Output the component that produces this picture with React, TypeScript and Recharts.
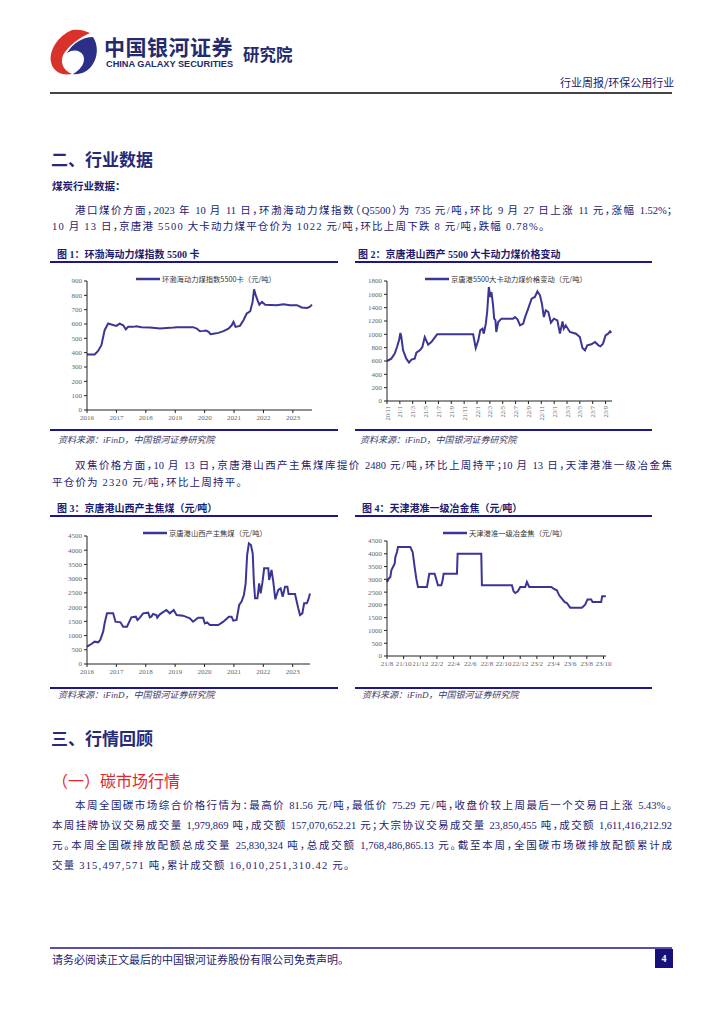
import React from "react";
import { LineChart, Line, XAxis, YAxis, Legend } from "recharts";

const NAVY = "#1d1a6e";
const LINE = "#3b3595";
const RULE = "#1e168c";
const SERIF = '"Liberation Serif", "Noto Sans CJK SC", serif';
const HEI = '"Noto Sans CJK SC", sans-serif';

// 图1：环渤海动力煤指数 5500 卡（年份小数, 元/吨）
const bsYears = [
  2016.0, 2016.26, 2016.37, 2016.49, 2016.6, 2016.72, 2016.83, 2017.0, 2017.11, 2017.23,
  2017.32, 2017.4, 2017.57, 2017.68, 2017.85, 2018.14, 2018.48, 2018.82, 2019.05, 2019.61,
  2019.73, 2019.84, 2019.95, 2020.05, 2020.13, 2020.2, 2020.35, 2020.47, 2020.64, 2020.81,
  2020.92, 2020.98, 2021.05, 2021.2, 2021.32, 2021.43, 2021.55, 2021.63, 2021.68, 2021.73,
  2021.8, 2021.86, 2021.95, 2022.06, 2022.45, 2022.68, 2022.9, 2023.14, 2023.3, 2023.48,
  2023.57, 2023.65,
];
const bsValues = [
  387, 387, 410, 452, 557, 603, 596, 587, 603, 591,
  563, 580, 580, 585, 578, 575, 568, 573, 578, 578,
  568, 550, 552, 555, 545, 529, 534, 538, 550, 568,
  591, 615, 580, 587, 626, 673, 689, 754, 842, 805,
  765, 735, 754, 735, 731, 738, 731, 731, 715, 712,
  719, 735,
];
const yearTicks1 = [2016, 2017, 2018, 2019, 2020, 2021, 2022, 2023];
const bsYTicks = [0, 100, 200, 300, 400, 500, 600, 700, 800, 900];

// 图2：京唐港山西产 5500 大卡动力煤（自 20/11 起的月序号）
const jtMonths = [
  0, 0.67, 1.2, 1.56, 1.87, 2.08, 2.23, 2.5, 3.0, 3.43,
  3.8, 4.3, 4.57, 5.1, 5.5, 5.87, 6.1, 6.4, 6.9, 7.8,
  13.4, 13.8, 14.2, 14.5, 14.85, 15.06, 15.37, 15.58, 15.84, 16.04,
  16.25, 16.5, 16.67, 16.87, 17.0, 17.3, 17.8, 19.6, 19.9, 20.3,
  20.7, 21.2, 21.4, 21.96, 22.5, 23.0, 23.4, 23.8, 24.1, 24.4,
  24.7, 25.1, 25.5, 25.96, 26.5, 26.9, 27.3, 27.5, 27.8, 28.45,
  29.4, 30.0, 30.4, 30.8, 31.15, 31.8, 32.35, 32.9, 33.2, 33.6,
  34.0, 34.4, 34.7, 34.9,
];
const jtValues = [
  600, 635, 710, 810, 910, 1020, 960, 760, 635, 575,
  620, 635, 725, 760, 810, 960, 910, 845, 885, 1000,
  1000, 795, 910, 1060, 1085, 1010, 1160, 1335, 1710, 1560,
  1635, 1435, 1235, 1210, 1035, 1185, 1235, 1235, 1260, 1225,
  1135, 1160, 1235, 1385, 1535, 1560, 1645, 1585, 1460, 1260,
  1360, 1335, 1175, 1235, 1210, 1010, 1195, 1085, 1135, 1035,
  1010, 960, 795, 760, 835, 850, 885, 835, 820, 860,
  985, 1010, 1045, 1022,
];
const jtTicks = [0, 2, 4, 6, 8, 10, 12, 14, 16, 18, 20, 22, 24, 26, 28, 30, 32, 34];
const jtLabels = [
  "20/11", "21/1", "21/3", "21/5", "21/7", "21/9", "21/11", "22/1", "22/3",
  "22/5", "22/7", "22/9", "22/11", "23/1", "23/3", "23/5", "23/7", "23/9",
];
const jtYTicks = [0, 200, 400, 600, 800, 1000, 1200, 1400, 1600, 1800];

// 图3：京唐港山西产主焦煤（元/吨）
const zjYears = [
  2016.0, 2016.15, 2016.26, 2016.38, 2016.45, 2016.55, 2016.6, 2016.68, 2016.89, 2016.97,
  2017.14, 2017.23, 2017.36, 2017.51, 2017.66, 2017.72, 2017.8, 2017.91, 2018.08, 2018.14,
  2018.19, 2018.25, 2018.36, 2018.39, 2018.48, 2018.7, 2018.82, 2018.95, 2019.05, 2019.27,
  2019.5, 2019.61, 2019.78, 2019.95, 2020.01, 2020.09, 2020.18, 2020.47, 2020.64, 2020.83,
  2020.92, 2020.98, 2021.09, 2021.18, 2021.26, 2021.34, 2021.4, 2021.45, 2021.51, 2021.58,
  2021.64, 2021.68, 2021.72, 2021.8, 2021.86, 2021.91, 2021.97, 2022.03, 2022.17, 2022.2,
  2022.28, 2022.34, 2022.41, 2022.51, 2022.59, 2022.66, 2022.74, 2022.82, 2022.86, 2023.08,
  2023.19, 2023.25, 2023.33, 2023.39, 2023.48, 2023.53, 2023.59,
];
const zjValues = [
  610, 703, 785, 762, 844, 1137, 1430, 1781, 1781, 1488,
  1465, 1313, 1313, 1641, 1664, 1547, 1629, 1781, 1805, 1641,
  1664, 1758, 1723, 1629, 1746, 1899, 1781, 1899, 1723, 1699,
  1606, 1488, 1629, 1629, 1430, 1465, 1371, 1371, 1488, 1664,
  1664, 1524, 1547, 2074, 2192, 2426, 2836, 3832, 4243, 4184,
  3891, 2895, 2309, 2309, 2836, 2485, 2860, 3364, 3364, 2953,
  3305, 2895, 2274, 2602, 2660, 2367, 2719, 2719, 2461, 2461,
  1957, 1723, 1781, 2133, 2133, 2250, 2480,
];
const cokeYTicks = [0, 500, 1000, 1500, 2000, 2500, 3000, 3500, 4000, 4500];

// 图4：天津港准一级冶金焦（自 21/8 起的月序号）
const tjMonths = [
  0, 0.2, 0.4, 0.52, 0.72, 0.92, 1.0, 1.2, 1.32, 2.8,
  3.08, 3.32, 3.52, 3.72, 4.8, 5.08, 5.72, 6.12, 6.52, 6.68,
  6.8, 8.4, 8.48, 11.32, 11.4, 15.0, 15.2, 15.4, 15.72, 16.0,
  16.6, 16.8, 17.08, 19.72, 20.0, 20.4, 20.68, 21.0, 21.32, 21.6,
  22.0, 23.4, 23.8, 24.08, 24.52, 24.68, 25.72, 25.84, 26.28,
];
const tjValues = [
  2895, 3025, 3090, 3350, 3480, 3610, 3870, 4070, 4265, 4265,
  4070, 3480, 3025, 2700, 2700, 3220, 3220, 2765, 2765, 2960,
  3220, 3220, 4005, 4005, 2765, 2765, 2530, 2465, 2530, 2700,
  2700, 2895, 2700, 2700, 2635, 2570, 2375, 2245, 2115, 2075,
  1890, 1890, 2010, 2215, 2215, 2115, 2115, 2335, 2335,
];
const tjTicks = [0, 2, 4, 6, 8, 10, 12, 14, 16, 18, 20, 22, 24, 26];
const tjLabels = [
  "21/8", "21/10", "21/12", "22/2", "22/4", "22/6", "22/8",
  "22/10", "22/12", "23/2", "23/4", "23/6", "23/8", "23/10",
];

const tickStyle = { fontSize: 7, fill: "#666", fontFamily: SERIF };
const axisProps = {
  axisLine: { stroke: "#222" },
  tickLine: { stroke: "#222" },
  tickSize: 3,
  tick: tickStyle,
};

function LegendBox({ text }: { text: string }) {
  return (
    <div style={{ display: "flex", alignItems: "center", whiteSpace: "nowrap" }}>
      <svg width={24} height={6}>
        <line x1={0} y1={3} x2={24} y2={3} stroke={LINE} strokeWidth={2.5} />
      </svg>
      <span style={{ fontSize: 7.3, color: "#333", fontFamily: HEI, marginLeft: 2 }}>{text}</span>
    </div>
  );
}

function Abs({ x, y, style, children }: any) {
  return <div style={{ position: "absolute", left: x, top: y, ...style }}>{children}</div>;
}

function Rule({ x, y, w, h = 2, color = RULE }: any) {
  return <div style={{ position: "absolute", left: x, top: y, width: w, height: h, background: color }} />;
}

const bodyText = {
  fontFamily: SERIF, fontSize: 10.5, color: NAVY,
  fontFeatureSettings: '"halt"',
};

// full: 两端对齐的整行；否则为段落末行（字距略宽）
function TextLine({ x, y, w, full, children }: any) {
  const style: any = full
    ? { ...bodyText, width: w, textAlign: "justify", textAlignLast: "justify", whiteSpace: "normal" }
    : { ...bodyText, letterSpacing: 1.2, whiteSpace: "nowrap" };
  return (
    <div style={{ position: "absolute", left: x, top: y, height: 16, lineHeight: "16px", ...style }}>
      {children}
    </div>
  );
}

function FigTitle({ x, y, children }: any) {
  return (
    <Abs x={x} y={y} style={{ fontFamily: SERIF, fontWeight: "bold", fontSize: 10, color: NAVY, whiteSpace: "nowrap" }}>
      {children}
    </Abs>
  );
}

function Source({ x, y }: any) {
  return (
    <Abs x={x} y={y} style={{ fontFamily: SERIF, fontStyle: "italic", fontSize: 9, color: "#3a3a6a", whiteSpace: "nowrap" }}>
      资料来源：iFinD，中国银河证券研究院
    </Abs>
  );
}

function Chart1() {
  const data = bsYears.map((t, i) => ({ t, v: bsValues[i] }));
  return (
    <LineChart width={288} height={160} data={data} margin={{ top: 13, right: 26, left: 7, bottom: 0 }}>
      <XAxis dataKey="t" type="number" domain={[2016, 2023.65]} ticks={yearTicks1} height={18} {...axisProps} />
      <YAxis type="number" domain={[0, 900]} ticks={bsYTicks} width={30} interval={0} {...axisProps} />
      <Legend layout="horizontal" verticalAlign="middle" align="center"
        wrapperStyle={{ top: 6, left: 86, width: "auto" }}
        content={() => <LegendBox text="环渤海动力煤指数5500卡（元/吨）" />} />
      <Line dataKey="v" type="linear" stroke={LINE} strokeWidth={2} dot={false} isAnimationActive={false} />
    </LineChart>
  );
}

function Chart2() {
  const data = jtMonths.map((m, i) => ({ m, v: jtValues[i] }));
  return (
    <LineChart width={297} height={160} data={data} margin={{ top: 13, right: 40, left: 4, bottom: 0 }}>
      <XAxis dataKey="m" type="number" domain={[0, 35]} ticks={jtTicks} height={27} interval={0}
        {...axisProps}
        tick={(p: any) => (
          <text x={p.x} y={p.y} transform={`rotate(-90 ${p.x} ${p.y})`} textAnchor="end" dy={2.5}
            fontSize={6.5} fill="#666" fontFamily={SERIF}>
            {jtLabels[jtTicks.indexOf(p.payload.value)]}
          </text>
        )} />
      <YAxis type="number" domain={[0, 1800]} ticks={jtYTicks} width={28} interval={0} {...axisProps} />
      <Legend layout="horizontal" verticalAlign="middle" align="center"
        wrapperStyle={{ top: 6, left: 70, width: "auto" }}
        content={() => <LegendBox text="京唐港5500大卡动力煤价格变动（元/吨）" />} />
      <Line dataKey="v" type="linear" stroke={LINE} strokeWidth={2} dot={false} isAnimationActive={false} />
    </LineChart>
  );
}

function Chart3() {
  const data = zjYears.map((t, i) => ({ t, v: zjValues[i] }));
  return (
    <LineChart width={288} height={166} data={data} margin={{ top: 16, right: 28, left: 7, bottom: 0 }}>
      <XAxis dataKey="t" type="number" domain={[2016, 2023.59]} ticks={yearTicks1} height={22} {...axisProps} />
      <YAxis type="number" domain={[0, 4500]} ticks={cokeYTicks} width={30} interval={0} {...axisProps} />
      <Legend layout="horizontal" verticalAlign="middle" align="center"
        wrapperStyle={{ top: 8, left: 93, width: "auto" }}
        content={() => <LegendBox text="京唐港山西产主焦煤（元/吨）" />} />
      <Line dataKey="v" type="linear" stroke={LINE} strokeWidth={2} dot={false} isAnimationActive={false} />
    </LineChart>
  );
}

function Chart4() {
  const data = tjMonths.map((m, i) => ({ m, v: tjValues[i] }));
  return (
    <LineChart width={297} height={166} data={data} margin={{ top: 21, right: 46, left: 6, bottom: 0 }}>
      <XAxis dataKey="m" type="number" domain={[0, 26.3]} ticks={tjTicks} height={30} interval={0}
        {...axisProps} tickFormatter={(v: number) => tjLabels[tjTicks.indexOf(v)]} />
      <YAxis type="number" domain={[0, 4500]} ticks={cokeYTicks} width={26} interval={0} {...axisProps} />
      <Legend layout="horizontal" verticalAlign="middle" align="center"
        wrapperStyle={{ top: 8, left: 88, width: "auto" }}
        content={() => <LegendBox text="天津港准一级冶金焦（元/吨）" />} />
      <Line dataKey="v" type="linear" stroke={LINE} strokeWidth={2} dot={false} isAnimationActive={false} />
    </LineChart>
  );
}

function Logo() {
  return (
    <svg width={50} height={48} viewBox="0 0 50 48" style={{ position: "absolute", left: 48, top: 28 }}>
      <path d="M24 2 C10 8 1 22 3 34 C5 44 14 48 24 46 C14 42 11 32 17 24 C22 17 31 10 42 5 C36 2 30 1 24 2 Z" fill="#d9322b" />
      <path d="M45 9 C51 18 50 31 42 40 C37 45 30 47 25 46 C34 41 38 33 35 27 C32 22 25 21 19 25 C25 15 35 9 45 9 Z" fill="#2c2f86" />
    </svg>
  );
}

export default function App() {
  return (
    <div style={{ position: "absolute", left: 0, top: 0, width: 724, height: 1024, background: "#fff", overflow: "hidden" }}>
      <Logo />
      <Abs x={104} y={31} style={{ fontFamily: HEI, fontWeight: "bold", fontSize: 21, color: "#232a6e", letterSpacing: 0.5, whiteSpace: "nowrap" }}>
        中国银河证券
      </Abs>
      <Abs x={106} y={59} style={{ fontFamily: '"Liberation Sans", Arial, sans-serif', fontWeight: "bold", fontSize: 9.2, color: "#232a6e", whiteSpace: "nowrap" }}>
        CHINA GALAXY SECURITIES
      </Abs>
      <Abs x={243} y={42} style={{ fontFamily: HEI, fontWeight: "bold", fontSize: 16.5, color: "#232a6e", whiteSpace: "nowrap" }}>
        研究院
      </Abs>
      <Abs x={560} y={74} style={{ fontFamily: HEI, fontSize: 11, color: NAVY, width: 112, textAlign: "right", whiteSpace: "nowrap" }}>
        行业周报/环保公用行业
      </Abs>
      <Rule x={50} y={92} w={622} h={2} color="#444" />

      <Abs x={51} y={146} style={{ fontFamily: HEI, fontWeight: "bold", fontSize: 17, color: "#262a78", whiteSpace: "nowrap" }}>
        二、行业数据
      </Abs>
      <Abs x={52} y={178} style={{ fontFamily: HEI, fontWeight: "bold", fontSize: 10.5, color: NAVY, whiteSpace: "nowrap" }}>
        煤炭行业数据：
      </Abs>
      <TextLine x={75} y={203} w={597} full>
        港口煤价方面，2023 年 10 月 11 日，环渤海动力煤指数（Q5500）为 735 元/吨，环比 9 月 27 日上涨 11 元，涨幅 1.52%；
      </TextLine>
      <TextLine x={52} y={219}>
        10 月 13 日，京唐港 5500 大卡动力煤平仓价为 1022 元/吨，环比上周下跌 8 元/吨，跌幅 0.78%。
      </TextLine>

      <FigTitle x={57} y={246}>图 1：环渤海动力煤指数 5500 卡</FigTitle>
      <FigTitle x={358} y={246}>图 2：京唐港山西产 5500 大卡动力煤价格变动</FigTitle>
      <Rule x={50} y={261} w={288} />
      <Rule x={355} y={261} w={297} />
      <Abs x={50} y={268}><Chart1 /></Abs>
      <Abs x={355} y={268}><Chart2 /></Abs>
      <Rule x={50} y={429} w={288} />
      <Rule x={355} y={429} w={297} />
      <Source x={58} y={433} />
      <Source x={360} y={433} />

      <TextLine x={75} y={458} w={597} full>
        双焦价格方面，10 月 13 日，京唐港山西产主焦煤库提价 2480 元/吨，环比上周持平；10 月 13 日，天津港准一级冶金焦
      </TextLine>
      <TextLine x={52} y={475}>
        平仓价为 2320 元/吨，环比上周持平。
      </TextLine>

      <FigTitle x={57} y={500}>图 3：京唐港山西产主焦煤（元/吨）</FigTitle>
      <FigTitle x={362} y={500}>图 4：天津港准一级冶金焦（元/吨）</FigTitle>
      <Rule x={50} y={515} w={288} />
      <Rule x={355} y={515} w={297} />
      <Abs x={50} y={520}><Chart3 /></Abs>
      <Abs x={355} y={520}><Chart4 /></Abs>
      <Rule x={50} y={687} w={288} />
      <Rule x={355} y={687} w={297} />
      <Source x={58} y={688} />
      <Source x={362} y={688} />

      <Abs x={51} y={725} style={{ fontFamily: HEI, fontWeight: "bold", fontSize: 17, color: "#262a78", whiteSpace: "nowrap" }}>
        三、行情回顾
      </Abs>
      <Abs x={52} y={768} style={{ fontFamily: HEI, fontSize: 16, color: "#e3262a", whiteSpace: "nowrap" }}>
        （一）碳市场行情
      </Abs>
      <TextLine x={75} y={798} w={597} full>
        本周全国碳市场综合价格行情为：最高价 81.56 元/吨，最低价 75.29 元/吨，收盘价较上周最后一个交易日上涨 5.43%。
      </TextLine>
      <TextLine x={52} y={818} w={620} full>
        本周挂牌协议交易成交量 1,979,869 吨，成交额 157,070,652.21 元；大宗协议交易成交量 23,850,455 吨，成交额 1,611,416,212.92
      </TextLine>
      <TextLine x={52} y={838} w={620} full>
        元。本周全国碳排放配额总成交量 25,830,324 吨，总成交额 1,768,486,865.13 元。截至本周，全国碳市场碳排放配额累计成
      </TextLine>
      <TextLine x={52} y={858}>
        交量 315,497,571 吨，累计成交额 16,010,251,310.42 元。
      </TextLine>

      <Rule x={50} y={947} w={622} h={2} color="#5a4ea6" />
      <Abs x={52} y={951} style={{ fontFamily: SERIF, fontSize: 11, color: NAVY, whiteSpace: "nowrap" }}>
        请务必阅读正文最后的中国银河证券股份有限公司免责声明。
      </Abs>
      <div style={{ position: "absolute", left: 655, top: 949, width: 18, height: 19, background: "#15107a", color: "#fff", fontFamily: SERIF, fontWeight: "bold", fontSize: 10, textAlign: "center", lineHeight: "19px" }}>
        4
      </div>
    </div>
  );
}
